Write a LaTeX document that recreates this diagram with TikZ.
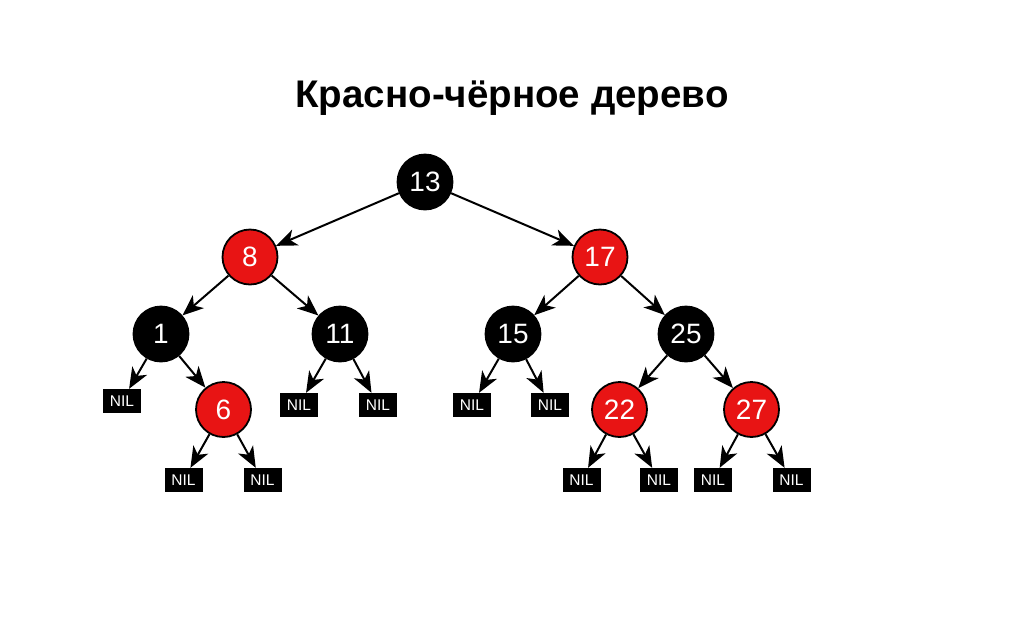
\documentclass[tikz,border=0pt]{standalone}
\usepackage{fontspec}
\setmainfont{Liberation Sans}
\usetikzlibrary{arrows.meta}
\definecolor{rbred}{RGB}{232,20,20}
\tikzset{
  rb/.style={circle, draw=black, line width=1.8pt, minimum size=55pt, inner sep=0pt, font=\fontsize{28}{28}\selectfont, text=white},
  blk/.style={rb, fill=black},
  rd/.style={rb, fill=rbred},
  nil/.style={rectangle, fill=black, minimum width=38pt, minimum height=24pt, inner sep=0pt, text=white, font=\fontsize{15.5}{15.5}\selectfont},
  arr/.style={line width=2pt, -{Stealth[length=21pt,width=17pt,inset=6pt]}}
}
\begin{document}
\begin{tikzpicture}[x=1pt,y=-1pt]
\useasboundingbox (0,0) rectangle (1024,638);
\node[font=\bfseries\fontsize{38.5}{38.5}\selectfont] (title) at (512,98) {Красно-чёрное дерево};
\node[blk] (n13) at (425,182) {13};
\node[rd] (n8) at (250,257) {8};
\node[rd] (n17) at (600,257) {17};
\node[blk] (n1) at (161,334) {1};
\node[blk] (n11) at (340,334) {11};
\node[blk] (n15) at (513,334) {15};
\node[blk] (n25) at (686,334) {25};
\node[rd] (n6) at (223.5,409.5) {6};
\node[rd] (n22) at (619.5,409.5) {22};
\node[rd] (n27) at (751.5,409.5) {27};
\node[nil] (z1) at (122,401) {NIL};
\node[nil] (z2) at (299,405) {NIL};
\node[nil] (z3) at (378,405) {NIL};
\node[nil] (z4) at (472,405) {NIL};
\node[nil] (z5) at (550,405) {NIL};
\node[nil] (z6) at (183.5,480) {NIL};
\node[nil] (z7) at (262.5,480) {NIL};
\node[nil] (z8) at (581.5,480) {NIL};
\node[nil] (z9) at (659,480) {NIL};
\node[nil] (z10) at (713,480) {NIL};
\node[nil] (z11) at (791.5,480) {NIL};
\draw[arr] (n13) -- (n8);
\draw[arr] (n13) -- (n17);
\draw[arr] (n8) -- (n1);
\draw[arr] (n8) -- (n11);
\draw[arr] (n17) -- (n15);
\draw[arr] (n17) -- (n25);
\draw[arr] (n1) -- (z1);
\draw[arr] (n1) -- (n6);
\draw[arr] (n11) -- (z2);
\draw[arr] (n11) -- (z3);
\draw[arr] (n15) -- (z4);
\draw[arr] (n15) -- (z5);
\draw[arr] (n25) -- (n22);
\draw[arr] (n25) -- (n27);
\draw[arr] (n6) -- (z6);
\draw[arr] (n6) -- (z7);
\draw[arr] (n22) -- (z8);
\draw[arr] (n22) -- (z9);
\draw[arr] (n27) -- (z10);
\draw[arr] (n27) -- (z11);
\end{tikzpicture}
\end{document}
